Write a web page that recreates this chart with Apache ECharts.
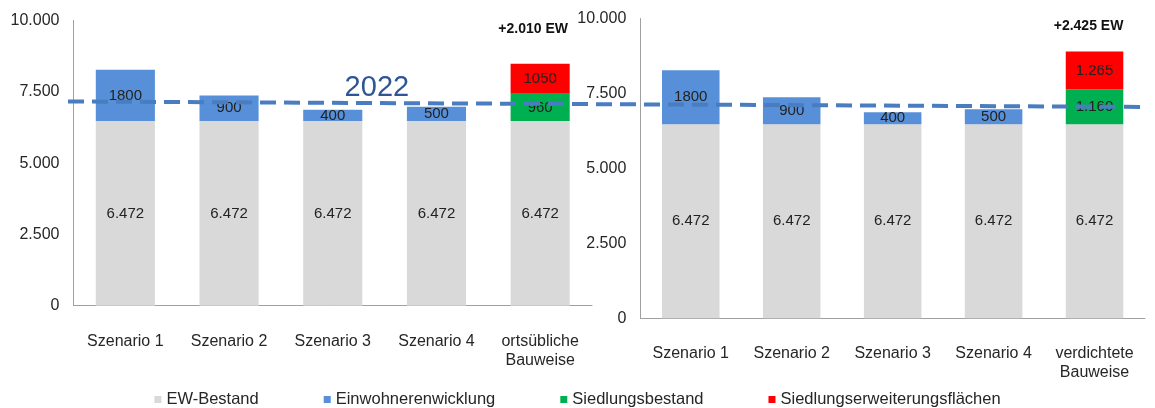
<!DOCTYPE html>
<html>
<head>
<meta charset="utf-8">
<script src="https://cdn.jsdelivr.net/npm/echarts@6/dist/echarts.min.js"></script>
<style>
html,body{margin:0;padding:0;background:#fff;}
#chart{width:1155px;height:408px;}
</style>
</head>
<body>
<div id="chart"></div>
<script>
// ---- data ----
var categoriesLeft = ['Szenario 1', 'Szenario 2', 'Szenario 3', 'Szenario 4', 'ortsübliche\nBauweise'];
var categoriesRight = ['Szenario 1', 'Szenario 2', 'Szenario 3', 'Szenario 4', 'verdichtete\nBauweise'];
var seriesNames = ['EW-Bestand', 'Einwohnerenwicklung', 'Siedlungsbestand', 'Siedlungserweiterungsflächen'];

var bestandLeft = [6472, 6472, 6472, 6472, 6472];
var entwicklungLeft = [1800, 900, 400, 500, null];
var siedlungLeft = [null, null, null, null, 960];
var erweiterungLeft = [null, null, null, null, 1050];

var bestandRight = [6472, 6472, 6472, 6472, 6472];
var entwicklungRight = [1800, 900, 400, 500, null];
var siedlungRight = [null, null, null, null, 1160];
var erweiterungRight = [null, null, null, null, 1265];

var yTicks = [0, 2500, 5000, 7500, 10000];
var refLineLabel = '2022';
var refLineValues = [7160, 6970]; // dashed reference level (start, end), left-axis units

// ---- helpers ----
function de(v) {
  var s = String(Math.round(v));
  return s.replace(/\B(?=(\d{3})+(?!\d))/g, '.');
}
function raw(v) { return String(v); }

var colors = ['#d9d9d9', '#5790d8', '#00b050', '#ff0000'];

function panelSeries(idx, arrs, fmts, totalDist, totalOff) {
  var out = [];
  arrs.forEach(function (arr, i) {
    out.push({
      name: seriesNames[i],
      type: 'bar',
      stack: 'p' + idx,
      xAxisIndex: idx, yAxisIndex: idx,
      barWidth: '57%',
      data: arr,
      itemStyle: { color: colors[i] },
      label: {
        show: true, position: 'inside',
        fontFamily: 'Liberation Sans, Arial, sans-serif',
        fontSize: 15, color: '#222',
        formatter: function (p) { return p.value == null ? '' : fmts[i](p.value); }
      }
    });
  });
  var totals = arrs[2].map(function (v, k) {
    return (v == null && arrs[3][k] == null) ? null : 0;
  });
  out.push({
    name: 'Summe' + idx,
    type: 'bar',
    stack: 'p' + idx,
    xAxisIndex: idx, yAxisIndex: idx,
    barWidth: '57%',
    data: totals,
    itemStyle: { color: 'transparent' },
    label: {
      show: true, position: 'top', distance: totalDist, offset: [totalOff, 0],
      fontFamily: 'Liberation Sans, Arial, sans-serif',
      fontSize: 14, fontWeight: 'bold', color: '#111',
      formatter: function (p) {
        var s = (arrs[2][p.dataIndex] || 0) + (arrs[3][p.dataIndex] || 0);
        return '+' + de(s) + ' EW';
      }
    }
  });
  return out;
}

var axisFont = { fontFamily: 'Liberation Sans, Arial, sans-serif', fontSize: 16, color: '#262626' };

function xAx(idx, cats) {
  return {
    type: 'category', gridIndex: idx, data: cats,
    axisLine: { lineStyle: { color: '#a0a0a0', width: 1 } },
    axisTick: { show: false },
    axisLabel: Object.assign({ interval: 0, margin: 26, lineHeight: 19 }, axisFont)
  };
}
function yAx(idx) {
  return {
    type: 'value', gridIndex: idx, min: yTicks[0], max: yTicks[yTicks.length - 1],
    interval: yTicks[1] - yTicks[0],
    axisLine: { show: true, lineStyle: { color: '#a0a0a0', width: 1 } },
    axisTick: { show: false },
    splitLine: { show: false },
    axisLabel: Object.assign({ margin: 14, formatter: function (v) { return de(v); } }, axisFont)
  };
}

var series = []
  .concat(panelSeries(0, [bestandLeft, entwicklungLeft, siedlungLeft, erweiterungLeft], [de, raw, raw, raw], 28, -7))
  .concat(panelSeries(1, [bestandRight, entwicklungRight, siedlungRight, erweiterungRight], [de, raw, de, de], 18, -6));

series.push({
  name: 'ref',
  type: 'line',
  xAxisIndex: 2, yAxisIndex: 2,
  data: [[0, refLineValues[0]], [1, refLineValues[1]]],
  symbol: 'none',
  z: 10,
  silent: true,
  lineStyle: { color: '#4a7cc0', width: 4, type: [16, 8] },
  markPoint: {
    symbol: 'rect', symbolSize: 1,
    itemStyle: { color: 'transparent' },
    data: [{ coord: [0.286, 7628], value: refLineLabel }],
    label: {
      show: true, position: 'inside',
      fontFamily: 'Liberation Sans, Arial, sans-serif',
      fontSize: 29, color: '#2f5597',
      formatter: function (p) { return p.value; }
    }
  }
});

var chart = echarts.init(document.getElementById('chart'));
chart.setOption({
  animation: false,
  backgroundColor: '#fff',
  grid: [
    { left: 73.5, right: 563, top: 20.5, bottom: 102.3 },
    { left: 640.3, right: 10, top: 18.5, bottom: 89.7 },
    { left: 68, right: 7, top: 20.5, bottom: 102.3 }
  ],
  legend: {
    data: seriesNames,
    left: 'center', top: 386,
    icon: 'rect', itemWidth: 7, itemHeight: 7, itemGap: 65,
    textStyle: { fontFamily: 'Liberation Sans, Arial, sans-serif', fontSize: 16.5, color: '#262626' },
    selectedMode: false
  },
  xAxis: [
    xAx(0, categoriesLeft),
    xAx(1, categoriesRight),
    { type: 'value', gridIndex: 2, min: 0, max: 1, show: false }
  ],
  yAxis: [
    yAx(0),
    yAx(1),
    { type: 'value', gridIndex: 2, min: 0, max: 10000, show: false }
  ],
  series: series
});
</script>
</body>
</html>
